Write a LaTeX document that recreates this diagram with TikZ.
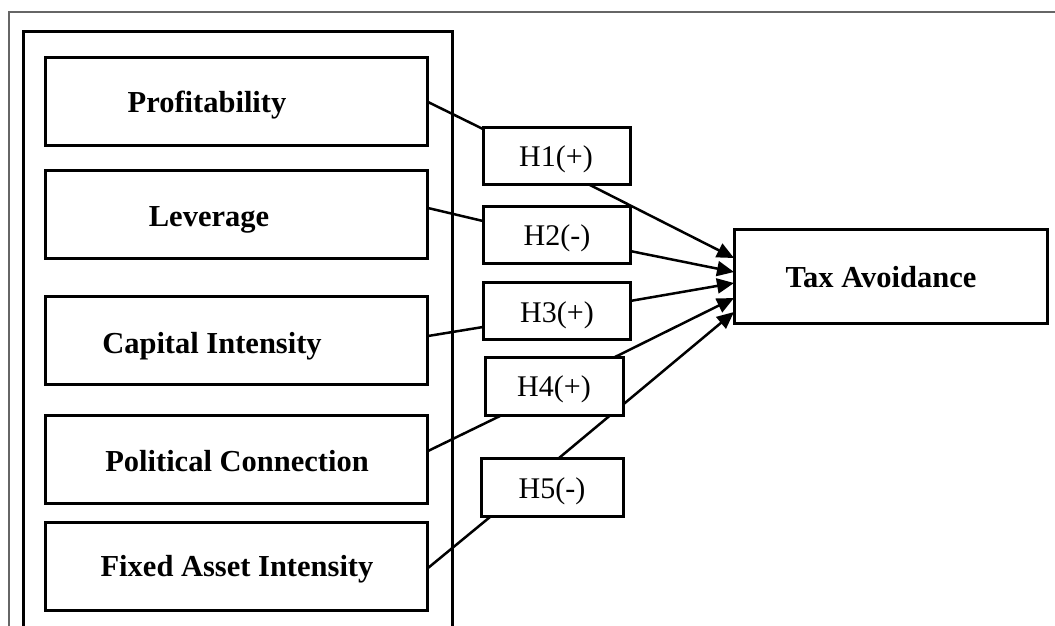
\documentclass[tikz,border=0pt]{standalone}
\usepackage{fontspec}
\setmainfont{Liberation Serif}
\usetikzlibrary{arrows.meta}
\tikzset{
  box/.style={draw=black, line width=3pt, fill=white, rectangle, inner sep=0pt},
  var/.style={box, minimum width=382pt, minimum height=88pt},
  hyp/.style={box},
  vtext/.style={anchor=base, inner sep=0pt, font=\fontsize{30.5}{36}\selectfont\bfseries},
  htext/.style={anchor=base, inner sep=0pt, font=\fontsize{30}{36}\selectfont},
  link/.style={draw=black, line width=2.5pt},
  arr/.style={link, -{Triangle[length=17pt,width=15pt]}},
}
\begin{document}
\begin{tikzpicture}[x=1pt,y=-1pt]
\useasboundingbox (0,0) rectangle (1055,625);
% outer frame (top and left) and inner frame (open at bottom)
\draw[draw=black!60, line width=2pt] (9,630) -- (9,12) -- (1060,12);
\draw[draw=black, line width=3pt] (23,630) -- (23,31) -- (452,31) -- (452,630);
% coordinates for connector ends
\coordinate (pr) at (428,102);
\coordinate (lr) at (428,208);
\coordinate (cr) at (428,336);
\coordinate (polr) at (428,451);
\coordinate (fr) at (428,568);
\coordinate (h1in) at (483,129);
\coordinate (h2in) at (483,221);
\coordinate (h3in) at (483,327);
\coordinate (h4in) at (500,416);
\coordinate (h5in) at (490,517);
\coordinate (h1out) at (588,184);
\coordinate (h2out) at (630,251);
\coordinate (h3out) at (630,301);
\coordinate (h4out) at (615,357);
\coordinate (h5out) at (559,458);
\coordinate (t1) at (734,258);
\coordinate (t2) at (734,272);
\coordinate (t3) at (734,283);
\coordinate (t4) at (734,298);
\coordinate (t5) at (734,312);
% connectors (drawn first, boxes cover them)
\draw[link] (pr) -- (h1in);
\draw[link] (lr) -- (h2in);
\draw[link] (cr) -- (h3in);
\draw[link] (polr) -- (h4in);
\draw[link] (fr) -- (h5in);
\draw[arr] (h1out) -- (t1);
\draw[arr] (h2out) -- (t2);
\draw[arr] (h3out) -- (t3);
\draw[arr] (h4out) -- (t4);
\draw[arr] (h5out) -- (t5);
% variable boxes
\node[var] (p) at (236,101) {};
\node[var] (l) at (236,214.5) {};
\node[var] (c) at (236,340) {};
\node[var] (pol) at (236,459) {};
\node[var] (f) at (236,566) {};
\node[vtext] (pt) at (207,112) {Profitability};
\node[vtext] (lt) at (209,226) {Leverage};
\node[vtext] (ct) at (212,353) {Capital Intensity};
\node[vtext] (polt) at (237,471) {Political Connection};
\node[vtext] (ft) at (237,576) {Fixed Asset Intensity};
% hypothesis boxes
\node[hyp, minimum width=147pt, minimum height=57pt] (h1) at (556.5,155.5) {};
\node[hyp, minimum width=147pt, minimum height=57pt] (h2) at (556.5,234.5) {};
\node[hyp, minimum width=147pt, minimum height=57pt] (h3) at (556.5,310.5) {};
\node[hyp, minimum width=138pt, minimum height=58pt] (h4) at (554,386) {};
\node[hyp, minimum width=142pt, minimum height=58pt] (h5) at (552,487) {};
\node[htext] (h1t) at (556,166) {H1(+)};
\node[htext] (h2t) at (557,245) {H2(-)};
\node[htext] (h3t) at (557,322) {H3(+)};
\node[htext] (h4t) at (554,396) {H4(+)};
\node[htext] (h5t) at (552,498) {H5(-)};
% dependent variable
\node[box, minimum width=313pt, minimum height=94pt] (tax) at (890.5,276) {};
\node[vtext] (taxt) at (881,287) {Tax Avoidance};
\end{tikzpicture}
\end{document}
